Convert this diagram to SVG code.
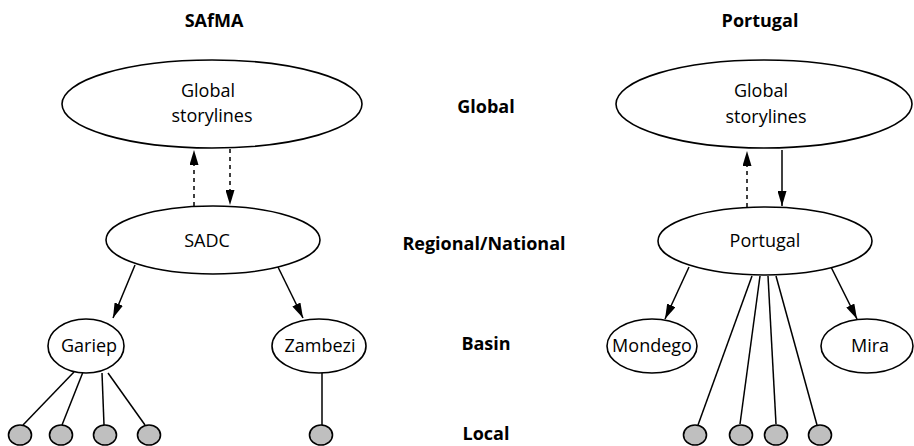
<svg xmlns="http://www.w3.org/2000/svg" width="914" height="446" viewBox="0 0 914 446">
<style>
.node{fill:#fff;stroke:#000;stroke-width:1.6}
.leaf{fill:#bfbfbf;stroke:#000;stroke-width:1.6}
.t{font-family:"Open Sans","Liberation Sans",sans-serif;font-size:18px;text-anchor:middle;fill:#000}
.h{font-family:"Open Sans","Liberation Sans",sans-serif;font-size:18px;font-weight:bold;text-anchor:middle;fill:#000}
.c{stroke:#000;stroke-width:1.5;fill:none}
.d{stroke-dasharray:4,4}
</style>
<defs>
<marker id="ah" viewBox="0 0 15 9" refX="15" refY="4.5" markerWidth="15" markerHeight="9" markerUnits="userSpaceOnUse" orient="auto">
<path d="M0,0 L15,4.5 L0,9 z" fill="#000" stroke="none"/>
</marker>
</defs>
<g id="labels">
<text class="h" x="214" y="27">SAfMA</text>
<text class="h" x="760" y="27">Portugal</text>
<text class="h" x="486" y="113">Global</text>
<text class="h" x="484" y="250">Regional/National</text>
<text class="h" x="486" y="350">Basin</text>
<text class="h" x="486" y="440">Local</text>
</g>
<g id="connectors">
<line class="c d" x1="194" y1="206" x2="194" y2="150" marker-end="url(#ah)"/>
<line class="c d" x1="230" y1="149" x2="230" y2="205" marker-end="url(#ah)"/>
<line class="c" x1="135" y1="265" x2="113" y2="318" marker-end="url(#ah)"/>
<line class="c" x1="277" y1="265" x2="303" y2="318" marker-end="url(#ah)"/>
<line class="c" x1="74" y1="372" x2="23" y2="425"/>
<line class="c" x1="83" y1="372" x2="62" y2="425"/>
<line class="c" x1="102" y1="373" x2="104" y2="425"/>
<line class="c" x1="108" y1="373" x2="145" y2="425"/>
<line class="c" x1="322" y1="372" x2="322" y2="425"/>
<line class="c d" x1="747" y1="207" x2="747" y2="151" marker-end="url(#ah)"/>
<line class="c" x1="782" y1="150" x2="782" y2="206" marker-end="url(#ah)"/>
<line class="c" x1="689" y1="267" x2="665" y2="319" marker-end="url(#ah)"/>
<line class="c" x1="831" y1="267" x2="857" y2="319" marker-end="url(#ah)"/>
<line class="c" x1="752" y1="276" x2="698" y2="425"/>
<line class="c" x1="760" y1="276" x2="740" y2="424"/>
<line class="c" x1="768" y1="276" x2="776" y2="424"/>
<line class="c" x1="776" y1="276" x2="817" y2="425"/>
</g>
<g id="safma-global">
<ellipse class="node" cx="212" cy="104" rx="150" ry="44"/>
<text class="t" x="208" y="97">Global</text>
<text class="t" x="212" y="122">storylines</text>
</g>
<g id="sadc">
<ellipse class="node" cx="213" cy="240" rx="107" ry="34"/>
<text class="t" x="207" y="247">SADC</text>
</g>
<g id="gariep">
<ellipse class="node" cx="86" cy="346" rx="38" ry="27"/>
<text class="t" x="89" y="352">Gariep</text>
</g>
<g id="zambezi">
<ellipse class="node" cx="319" cy="346" rx="47" ry="27"/>
<text class="t" x="320" y="352">Zambezi</text>
</g>
<g id="safma-local">
<ellipse class="leaf" cx="20" cy="435" rx="11.5" ry="10"/>
<ellipse class="leaf" cx="61" cy="435" rx="11.5" ry="10"/>
<ellipse class="leaf" cx="105" cy="435" rx="11.5" ry="10"/>
<ellipse class="leaf" cx="149" cy="435" rx="11.5" ry="10"/>
<ellipse class="leaf" cx="321" cy="435" rx="11.5" ry="10"/>
</g>
<g id="portugal-global">
<ellipse class="node" cx="764" cy="104" rx="148" ry="44"/>
<text class="t" x="761" y="97">Global</text>
<text class="t" x="766" y="123">storylines</text>
</g>
<g id="portugal">
<ellipse class="node" cx="765" cy="241" rx="107" ry="34"/>
<text class="t" x="765" y="247">Portugal</text>
</g>
<g id="mondego">
<ellipse class="node" cx="652" cy="346" rx="45" ry="27"/>
<text class="t" x="652" y="352">Mondego</text>
</g>
<g id="mira">
<ellipse class="node" cx="867" cy="346" rx="46" ry="27"/>
<text class="t" x="870" y="352">Mira</text>
</g>
<g id="portugal-local">
<ellipse class="leaf" cx="695" cy="435" rx="11.5" ry="10"/>
<ellipse class="leaf" cx="741" cy="435" rx="11.5" ry="10"/>
<ellipse class="leaf" cx="776" cy="435" rx="11.5" ry="10"/>
<ellipse class="leaf" cx="820" cy="435" rx="11.5" ry="10"/>
</g>
</svg>
